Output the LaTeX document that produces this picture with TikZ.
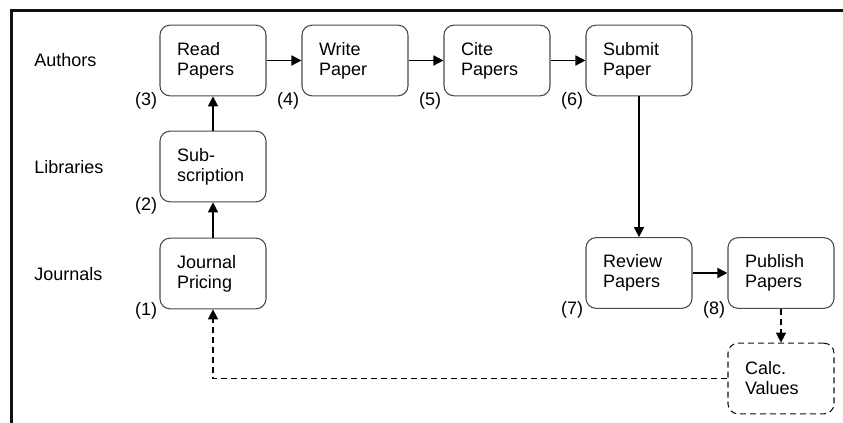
\documentclass[tikz,border=0pt]{standalone}
\usepackage{fontspec}
\setmainfont{Liberation Sans}
\usepackage{tikz}
\usetikzlibrary{
    shapes, arrows.meta, positioning, calc
}
\definecolor{boxGray}{HTML}{4A4A4A}
\definecolor{frameBlack}{HTML}{111111}

\begin{document}
\begin{tikzpicture}[x=0.75pt, y=-0.75pt,
    every node/.style={font=\fontsize{13.5}{15}\selectfont},
    stage/.style={draw=boxGray, line width=0.8pt, rounded corners=7.5pt,
        minimum width=79.5pt, minimum height=53pt, text width=54pt,
        inner xsep=12.75pt, align=left},
    calcbox/.style={stage, draw=frameBlack, dashed, dash pattern=on 4.5pt off 3pt},
    num/.style={inner sep=0pt, anchor=east},
    role/.style={anchor=west, inner sep=0pt},
    flow/.style={-{Triangle[length=7.5pt,width=7.5pt]}, line width=1.1pt},
    feedback/.style={flow, dash pattern=on 4.5pt off 3pt}
]
    \useasboundingbox (0,0) rectangle (843,423);
    % frame
    \draw[frameBlack, line width=2.25pt] (11,423) -- (11,11) -- (843,11);

    % rows
    \node[role] (authors) at (34, 60) {Authors};
    \node[role] (libraries) at (34, 167) {Libraries};
    \node[role] (journals) at (34, 274) {Journals};

    % steps
    \node[stage] (journal) at (213, 273.5) {Journal\\Pricing};
    \node[stage] (sub) at (213, 166.5) {Sub-\\scription};
    \node[stage] (read) at (213, 60.5) {Read\\Papers};
    \node[stage] (write) at (355, 60.5) {Write\\Paper};
    \node[stage] (cite) at (497, 60.5) {Cite\\Papers};
    \node[stage] (submit) at (639, 60.5) {Submit\\Paper};
    \node[stage] (review) at (639, 273) {Review\\Papers};
    \node[stage] (publish) at (781, 273) {Publish\\Papers};
    \node[calcbox] (calc) at (781, 378.5) {Calc.\\Values};

    % step numbers
    \node[num] (n1) at ($(journal.south west)+(-2,1)$) {(1)};
    \node[num] (n2) at ($(sub.south west)+(-2,3)$) {(2)};
    \node[num] (n3) at ($(read.south west)+(-2,4)$) {(3)};
    \node[num] (n4) at ($(write.south west)+(-2,4)$) {(4)};
    \node[num] (n5) at ($(cite.south west)+(-2,4)$) {(5)};
    \node[num] (n6) at ($(submit.south west)+(-2,4)$) {(6)};
    \node[num] (n7) at ($(review.south west)+(-2,1)$) {(7)};
    \node[num] (n8) at ($(publish.south west)+(-2,1)$) {(8)};

    % connectors
    \draw[flow] (journal) -- (sub);
    \draw[flow] (sub) -- (read);
    \draw[flow] (read) -- (write);
    \draw[flow] (write) -- (cite);
    \draw[flow] (cite) -- (submit);
    \draw[flow] (submit) -- (review);
    \draw[flow] (review) -- (publish);
    \draw[feedback] (publish) -- (calc);
    \draw[feedback] (calc.west) -| (journal.south);
\end{tikzpicture}
\end{document}
